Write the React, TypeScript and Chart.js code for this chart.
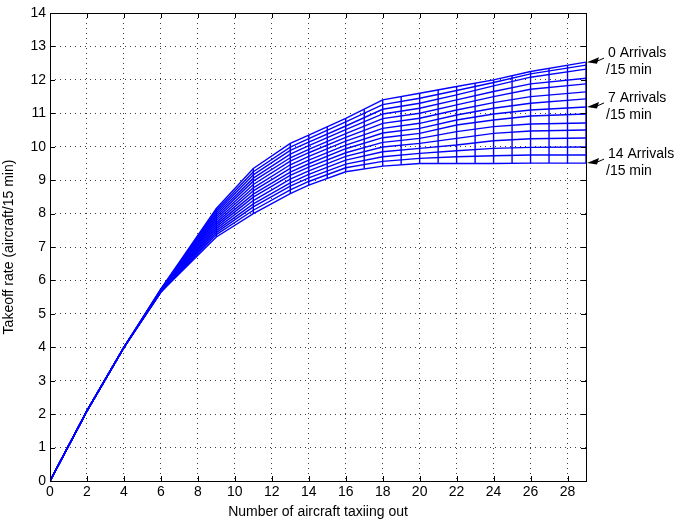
import React, { useEffect, useRef } from "react";
import { Chart, registerables } from "chart.js";
Chart.register(...registerables);

const curveX = [0, 2, 4, 6, 9, 11, 13, 14, 16, 18, 20, 22, 24, 26, 29];
const headValues = [0, 2.1, 4.0];
const arrivalCurves: number[][] = [
  [5.75, 8.15, 9.35, 10.10, 10.35, 10.85, 11.40, 11.60, 11.80, 12.00, 12.25, 12.53],
  [5.74, 8.09, 9.25, 9.99, 10.24, 10.74, 11.26, 11.45, 11.68, 11.92, 12.18, 12.44],
  [5.73, 8.03, 9.16, 9.89, 10.14, 10.62, 11.12, 11.30, 11.55, 11.82, 12.08, 12.32],
  [5.72, 7.97, 9.06, 9.78, 10.03, 10.51, 10.98, 11.15, 11.40, 11.65, 11.88, 12.05],
  [5.71, 7.91, 8.97, 9.67, 9.92, 10.39, 10.84, 11.00, 11.25, 11.50, 11.72, 11.88],
  [5.70, 7.85, 8.87, 9.57, 9.82, 10.28, 10.70, 10.85, 11.10, 11.32, 11.50, 11.64],
  [5.70, 7.79, 8.77, 9.46, 9.71, 10.17, 10.55, 10.70, 10.95, 11.15, 11.30, 11.43],
  [5.69, 7.73, 8.68, 9.35, 9.60, 10.05, 10.41, 10.55, 10.80, 10.98, 11.10, 11.19],
  [5.68, 7.67, 8.58, 9.24, 9.49, 9.94, 10.27, 10.40, 10.65, 10.80, 10.92, 10.98],
  [5.67, 7.61, 8.49, 9.14, 9.39, 9.82, 10.13, 10.25, 10.45, 10.60, 10.68, 10.71],
  [5.66, 7.55, 8.39, 9.03, 9.28, 9.71, 9.99, 10.10, 10.25, 10.40, 10.47, 10.50],
  [5.66, 7.49, 8.29, 8.92, 9.17, 9.60, 9.85, 9.95, 10.05, 10.18, 10.24, 10.26],
  [5.65, 7.43, 8.20, 8.82, 9.07, 9.48, 9.70, 9.80, 9.88, 9.95, 9.98, 9.99],
  [5.65, 7.37, 8.10, 8.71, 8.96, 9.37, 9.56, 9.65, 9.70, 9.73, 9.75, 9.75],
  [5.65, 7.30, 8.00, 8.60, 8.85, 9.25, 9.42, 9.50, 9.50, 9.50, 9.51, 9.51],
];
const meshX = [9, 11, 13, 14, 15, 16, 17, 18, 19, 20, 21, 22, 23, 24, 25, 26, 27, 28, 29];
const meshTop = [8.15, 9.35, 10.10, 10.35, 10.60, 10.85, 11.12, 11.40, 11.50, 11.60, 11.70, 11.80, 11.90, 12.00, 12.12, 12.25, 12.34, 12.44, 12.53];
const meshBottom = [7.30, 8.00, 8.60, 8.85, 9.05, 9.25, 9.34, 9.42, 9.46, 9.50, 9.50, 9.50, 9.50, 9.50, 9.51, 9.51, 9.51, 9.51, 9.51];
const xTicks = [0, 2, 4, 6, 8, 10, 12, 14, 16, 18, 20, 22, 24, 26, 28];
const labelLines = [["0 Arrivals", "/15 min"], ["7 Arrivals", "/15 min"], ["14 Arrivals", "/15 min"]];
const labelTargets = [12.53, 11.19, 9.51];

const FONT = "'Liberation Sans', Arial, sans-serif";

export default function App() {
  const ref = useRef<HTMLCanvasElement>(null);
  useEffect(() => {
    const datasets: any[] = [];
    arrivalCurves.forEach((row) => {
      const vals = [...headValues, ...row];
      datasets.push({
        data: curveX.map((x, i) => ({ x, y: vals[i] })),
        borderColor: "#0000ff", borderWidth: 1.4, pointRadius: 0, tension: 0,
      });
    });
    meshX.forEach((x, i) => {
      datasets.push({
        data: [{ x, y: meshBottom[i] }, { x, y: meshTop[i] }],
        borderColor: "#0000ff", borderWidth: 1.4, pointRadius: 0,
      });
    });
    const overlay = {
      id: "overlay",
      afterDraw(chart: any) {
        const { ctx, chartArea: a, scales } = chart;
        const xs = scales.x, ys = scales.y;
        ctx.save();
        ctx.strokeStyle = "#000"; ctx.lineWidth = 1;
        ctx.strokeRect(a.left + 0.5, a.top + 0.5, a.right - a.left, a.bottom - a.top);
        ctx.beginPath();
        xTicks.forEach((v) => {
          const px = Math.round(xs.getPixelForValue(v)) + 0.5;
          ctx.moveTo(px, a.bottom); ctx.lineTo(px, a.bottom - 5);
          ctx.moveTo(px, a.top); ctx.lineTo(px, a.top + 5);
        });
        for (let v = 0; v <= 14; v++) {
          const py = Math.round(ys.getPixelForValue(v)) + 0.5;
          ctx.moveTo(a.left, py); ctx.lineTo(a.left + 5, py);
          ctx.moveTo(a.right, py); ctx.lineTo(a.right - 5, py);
        }
        ctx.stroke();
        ctx.fillStyle = "#000";
        ctx.font = `14px ${FONT}`;
        ctx.textAlign = "left"; ctx.textBaseline = "middle";
        labelTargets.forEach((v, i) => {
          const ty = ys.getPixelForValue(v);
          const tx = a.right + 1;
          ctx.fillText(labelLines[i][0], 608, ty - 9);
          ctx.fillText(labelLines[i][1], 606, ty + 8);
          ctx.beginPath();
          ctx.moveTo(tx + 8, ty); ctx.lineTo(604, ty - 4);
          ctx.stroke();
          ctx.beginPath();
          ctx.moveTo(tx, ty); ctx.lineTo(tx + 12, ty - 5); ctx.lineTo(tx + 10, ty + 1.5); ctx.closePath();
          ctx.fill();
        });
        ctx.restore();
      },
    };
    const grid = { color: "rgba(40,40,40,0.9)", tickLength: 0, drawTicks: false, lineWidth: 1 };
    const border = { display: false, dash: [1, 4] };
    const chart = new Chart(ref.current!, {
      type: "line",
      data: { datasets },
      options: {
        animation: false, responsive: false,
        layout: { padding: { left: 0, right: 89, top: 13, bottom: 0 } },
        plugins: { legend: { display: false }, tooltip: { enabled: false } },
        scales: {
          x: {
            type: "linear", min: 0, max: 29,
            grid, border,
            afterBuildTicks(s: any) { s.ticks = xTicks.map((v) => ({ value: v })); },
            ticks: { color: "#000", font: { size: 14, family: FONT }, padding: 3, maxRotation: 0, autoSkip: false },
            title: { display: true, text: "Number of aircraft taxiing out", color: "#000", font: { size: 14, family: FONT }, padding: 0 },
            afterFit(s: any) { s.height = 40; },
          },
          y: {
            type: "linear", min: 0, max: 14,
            grid, border,
            ticks: { stepSize: 1, color: "#000", font: { size: 14, family: FONT }, padding: 4 },
            title: { display: true, text: "Takeoff rate (aircraft/15 min)", color: "#000", font: { size: 14, family: FONT }, padding: 1 },
            afterFit(s: any) { s.width = 50; },
          },
        },
      },
      plugins: [overlay],
    });
    return () => chart.destroy();
  }, []);
  return (
    <div style={{ position: "fixed", left: 0, top: 0, width: 675, height: 521, background: "#fff" }}>
      <canvas ref={ref} width={675} height={521} style={{ width: 675, height: 521 }} />
    </div>
  );
}
